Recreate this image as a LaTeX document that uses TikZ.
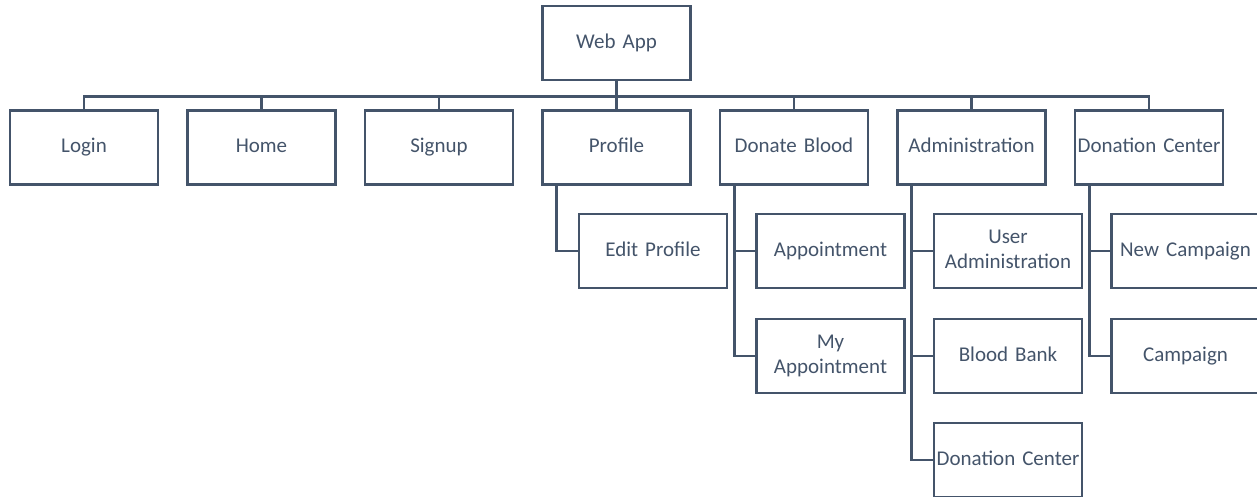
\documentclass[tikz,border=0pt]{standalone}
\usepackage{fontspec}
\setmainfont{Carlito}
\definecolor{slate}{HTML}{44546A}

\begin{document}
\begin{tikzpicture}[x=1pt,y=-1pt,
  box/.style={draw=slate,line width=2.8pt,text=slate,minimum width=148pt,minimum height=74pt,
    inner sep=0pt,text width=148pt,align=center,font=\fontsize{21}{25}\selectfont,
    execute at begin node=\strut,execute at end node=\strut},
  link/.style={draw=slate,line width=2.8pt}]
\useasboundingbox (0,0) rectangle (1257,496);
\clip (0,0) rectangle (1257,496);
\node[box] (web) at (616.5,43) {Web App};
\node[box] (login) at (84,147.5) {Login};
\node[box] (home) at (261.5,147.5) {Home};
\node[box] (signup) at (439,147.5) {Signup};
\node[box] (profile) at (616.5,147.5) {Profile};
\node[box] (donate) at (794,147.5) {Donate Blood};
\node[box] (admin) at (971.5,147.5) {Administration};
\node[box] (center) at (1149,147.5) {Donation Center};
\foreach \n in {login,home,signup,profile,donate,admin,center}
  \draw[link] (web.south) -- ++(0,15) -| (\n.north);
\node[box] (editprofile) at (653,251) {Edit Profile};
\node[box] (appointment) at (830.5,251) {Appointment};
\node[box] (myappointment) at (830.5,356) {My\\Appointment};
\node[box] (useradmin) at (1008,251) {User\\Administration};
\node[box] (bloodbank) at (1008,356) {Blood Bank};
\node[box] (admincenter) at (1008,460) {Donation Center};
\node[box] (newcampaign) at (1185.5,251) {New Campaign};
\node[box] (campaign) at (1185.5,356) {Campaign};
\draw[link] ([xshift=15.5pt]profile.south west) |- (editprofile.west);
\foreach \n in {appointment,myappointment}
  \draw[link] ([xshift=15.5pt]donate.south west) |- (\n.west);
\foreach \n in {useradmin,bloodbank,admincenter}
  \draw[link] ([xshift=15.5pt]admin.south west) |- (\n.west);
\foreach \n in {newcampaign,campaign}
  \draw[link] ([xshift=15.5pt]center.south west) |- (\n.west);
\end{tikzpicture}
\end{document}
